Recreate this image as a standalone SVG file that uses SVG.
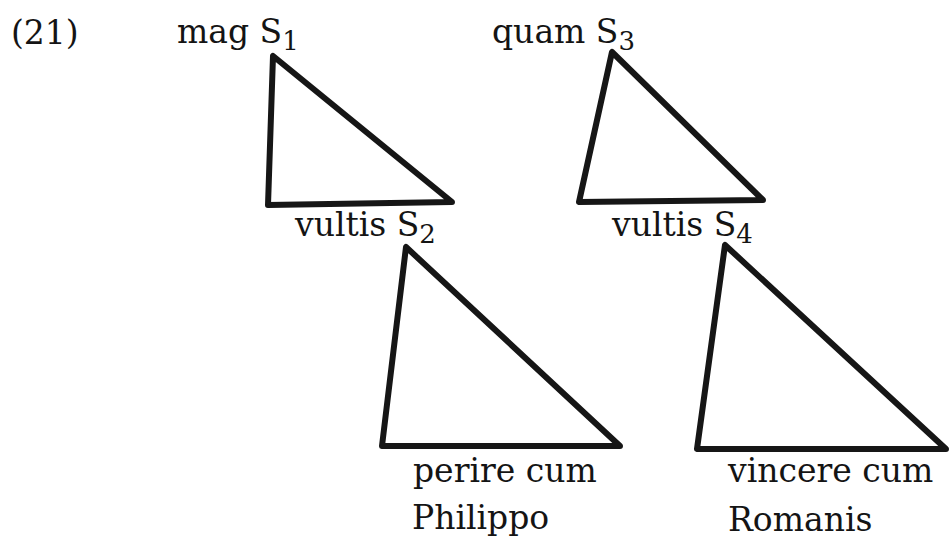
<svg xmlns="http://www.w3.org/2000/svg" width="950" height="540" viewBox="0 0 950 540">
<style>
text{font-family:"DejaVu Serif","Liberation Serif",serif;font-size:33px;fill:#141414}
.sub{font-size:26px}
.tri{fill:none;stroke:#161616;stroke-width:6;stroke-linejoin:round;stroke-linecap:round}
</style>
<rect width="950" height="540" fill="#fff"/>
<text id="label" x="11" y="44">(21)</text>
<g id="S1">
<polygon class="tri" points="273,56 268,205 452,202"/>
<text x="177" y="43">mag S<tspan class="sub" dy="7">1</tspan></text>
</g>
<g id="S3">
<polygon class="tri" points="612,52 579,202 763,200"/>
<text x="492" y="43">quam S<tspan class="sub" dy="7">3</tspan></text>
</g>
<g id="S2">
<polygon class="tri" points="406,247 382,446 620,446"/>
<text x="295" y="236">vultis S<tspan class="sub" dy="7">2</tspan></text>
<text x="413" y="482">perire cum</text>
<text x="412" y="529">Philippo</text>
</g>
<g id="S4">
<polygon class="tri" points="725,245 697,449 946,449"/>
<text x="612" y="236">vultis S<tspan class="sub" dy="7">4</tspan></text>
<text x="728" y="482">vincere cum</text>
<text x="728" y="531">Romanis</text>
</g>
<g id="connectors"/>
</svg>
